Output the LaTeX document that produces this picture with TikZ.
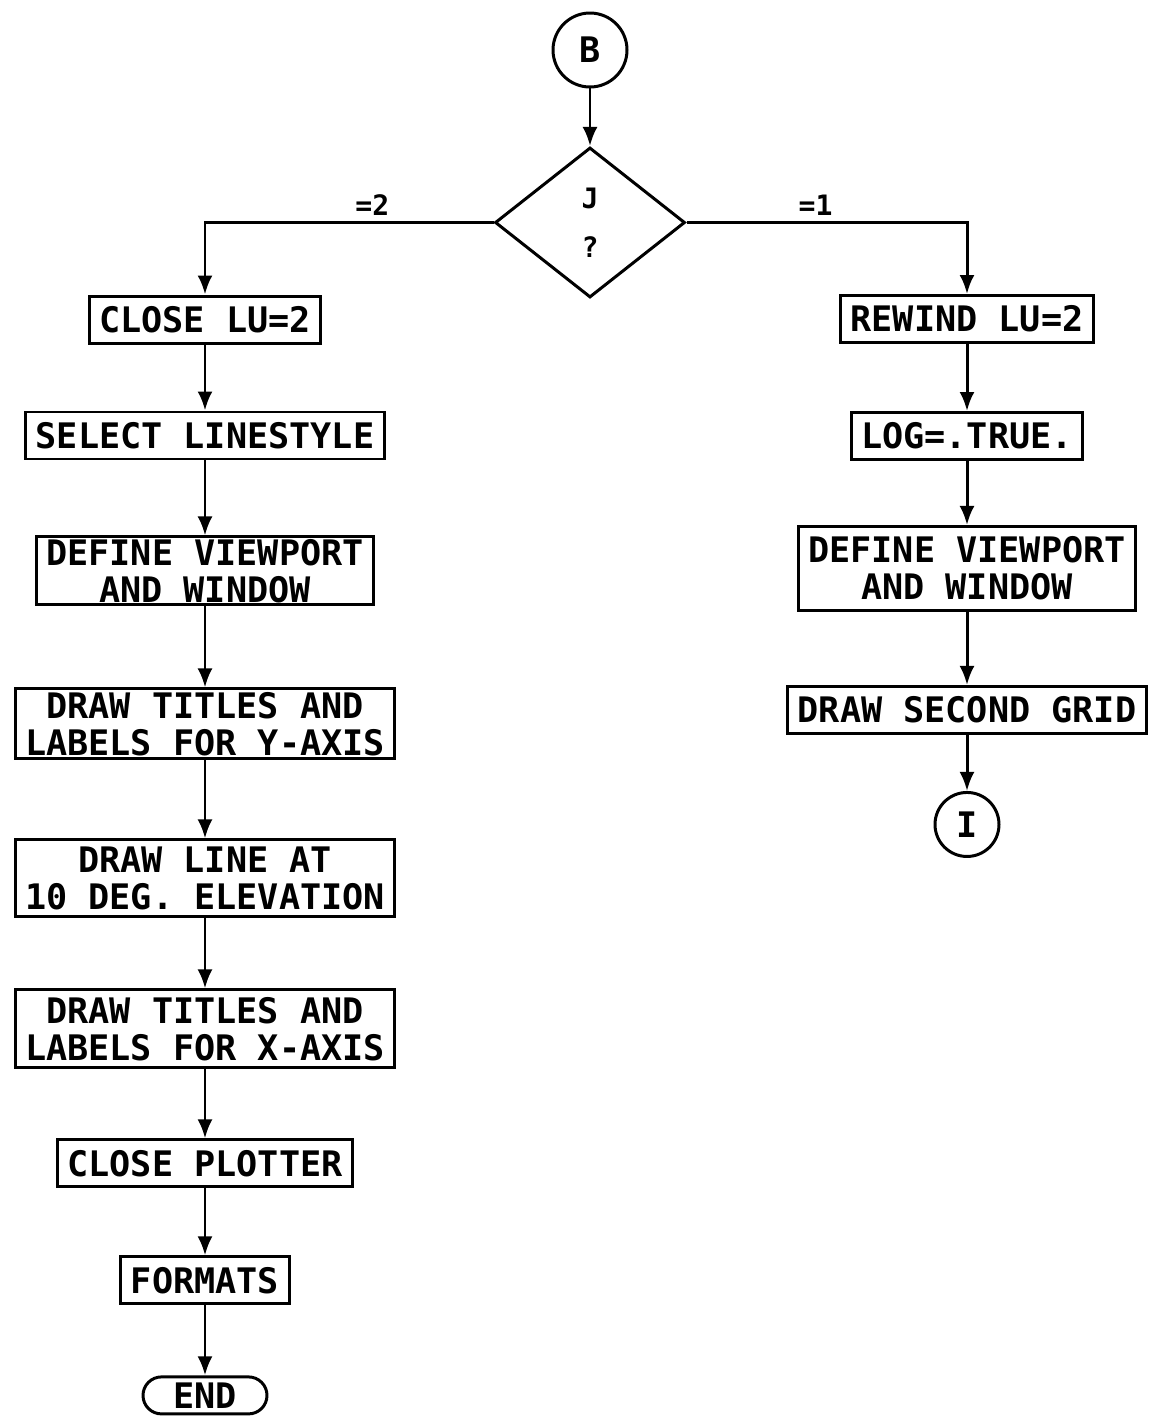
\documentclass[tikz,border=0pt]{standalone}
\usepackage{fontspec}
\setmainfont{DejaVu Sans Mono}
\usetikzlibrary{shapes.geometric, arrows.meta, positioning}

\begin{document}
\begin{tikzpicture}[
      node distance=1.5cm,
      every node/.style={font=\bfseries\fontsize{20}{21}\selectfont},
      box/.style={rectangle, draw, line width=1.7pt, inner xsep=0.2cm, minimum height=0.94cm, align=center},
      box2/.style={box, inner ysep=1pt},
      conn/.style={circle, draw, line width=1.7pt, inner sep=0pt},
      decide/.style={diamond, draw, line width=1.7pt, minimum width=3.8cm, minimum height=3cm, inner sep=0pt, align=center, font=\bfseries\fontsize{16}{28}\selectfont},
      term/.style={rectangle, draw, line width=1.7pt, rounded corners=0.37cm, minimum width=2.48cm, minimum height=0.74cm, inner sep=0pt},
      lbl/.style={font=\bfseries\fontsize{16}{18}\selectfont},
      arrow/.style={line width=1.7pt, -{Latex[length=0.38cm, width=0.3cm]}}
    ]
    \useasboundingbox (0,0) rectangle (23.18,-28.54);

    \node [conn, minimum size=1.48cm] (B) at (11.8,-1.0) {B};
    \node [decide, below=1.15cm of B] (J) {J\\?};

    % left branch
    \node [box] (closelu) at (4.1,-6.39) {CLOSE LU=2};
    \node [box, below=1.32cm of closelu] (style) {SELECT LINESTYLE};
    \node [box2, minimum height=1.36cm, below=of style] (viewl) {DEFINE VIEWPORT\\AND WINDOW};
    \node [box2, minimum height=1.4cm, below=1.62cm of viewl] (ytitles) {DRAW TITLES AND\\LABELS FOR Y-AXIS};
    \node [box2, minimum height=1.54cm, below=1.56cm of ytitles] (elev) {DRAW LINE AT\\10 DEG. ELEVATION};
    \node [box2, minimum height=1.56cm, below=1.4cm of elev] (xtitles) {DRAW TITLES AND\\LABELS FOR X-AXIS};
    \node [box, below=1.38cm of xtitles] (plotter) {CLOSE PLOTTER};
    \node [box, below=1.34cm of plotter] (formats) {FORMATS};
    \node [term, below=1.4cm of formats] (end) {END};

    % right branch
    \node [box] (rewind) at (19.34,-6.38) {REWIND LU=2};
    \node [box, below=1.34cm of rewind] (log) {LOG=.TRUE.};
    \node [box2, minimum height=1.68cm, below=1.28cm of log] (viewr) {DEFINE VIEWPORT\\AND WINDOW};
    \node [box, below=1.46cm of viewr] (grid) {DRAW SECOND GRID};
    \node [conn, minimum size=1.28cm, below=1.12cm of grid] (I) {I};

    \draw [arrow] (B) -- (J);
    \draw [arrow] (J.west) -| node [lbl, pos=0.21, above] {=2} (closelu);
    \draw [arrow] (J.east) -| node [lbl, pos=0.23, above] {=1} (rewind);

    \draw [arrow] (closelu) -- (style);
    \draw [arrow] (style) -- (viewl);
    \draw [arrow] (viewl) -- (ytitles);
    \draw [arrow] (ytitles) -- (elev);
    \draw [arrow] (elev) -- (xtitles);
    \draw [arrow] (xtitles) -- (plotter);
    \draw [arrow] (plotter) -- (formats);
    \draw [arrow] (formats) -- (end);

    \draw [arrow] (rewind) -- (log);
    \draw [arrow] (log) -- (viewr);
    \draw [arrow] (viewr) -- (grid);
    \draw [arrow] (grid) -- (I);
  \end{tikzpicture}
\end{document}
